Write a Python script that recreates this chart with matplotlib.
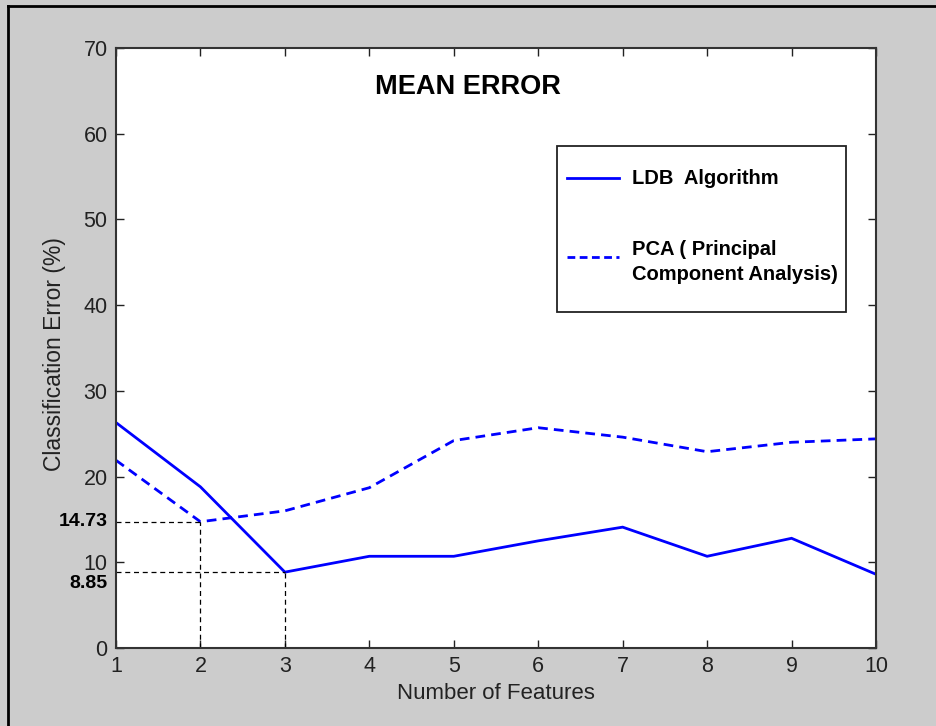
import matplotlib
matplotlib.use("Agg")
import matplotlib.pyplot as plt
from matplotlib.lines import Line2D
from matplotlib.patches import Rectangle
from matplotlib.transforms import offset_copy

plt.rcParams['font.family'] = ['Liberation Sans', 'DejaVu Sans']

features = [1, 2, 3, 4, 5, 6, 7, 8, 9, 10]
ldb_error = [26.3, 18.8, 8.85, 10.7, 10.7, 12.5, 14.1, 10.7, 12.8, 8.6]
pca_error = [21.9, 14.73, 16.0, 18.7, 24.2, 25.7, 24.6, 22.9, 24.0, 24.4]
y_ticks = [0, 10, 20, 30, 40, 50, 60, 70]
marked = [(2, 14.73), (3, 8.85)]

W, H = 937, 726
fig = plt.figure(figsize=(W / 100, H / 100), dpi=100, facecolor='#cccccc')
ax = fig.add_axes([116 / W, 1 - 648 / H, (876 - 116) / W, (648 - 48) / H])
ax.set_facecolor('white')

blue = '#0000ff'
ax.plot(features, ldb_error, color=blue, lw=2.0, solid_joinstyle='miter')
ax.plot(features, pca_error, color=blue, lw=2.0, linestyle=(0, (3.5, 2.2)))

# dashed guides to the marked minima, with their values on the y axis
label_shift = {14.73: 0, 8.85: -8.5}
for xv, yv in marked:
    ax.plot([1, xv], [yv, yv], color='black', lw=0.9, linestyle=(0, (4, 3)))
    ax.plot([xv, xv], [0, yv], color='black', lw=0.9, linestyle=(0, (4, 3)))
    tr = offset_copy(ax.get_yaxis_transform(), fig=fig, x=0, y=label_shift[yv], units='points')
    ax.text(-0.011, yv, f'{yv:.2f}', transform=tr,
            ha='right', va='center', fontsize=14, fontweight='bold')

ax.set_xlim(1, 10)
ax.set_ylim(0, 70)
ax.set_xticks(features)
ax.set_yticks(y_ticks)
ax.tick_params(direction='in', length=6, width=1, labelsize=15.5, colors='#222222',
               top=True, right=True, pad=6)
for s in ax.spines.values():
    s.set_linewidth(1.5)
    s.set_color('#333333')

ax.set_xlabel('Number of Features', fontsize=16, labelpad=4, color='#222222')
ax.set_ylabel('Classification Error (%)', fontsize=16.5, color='#222222')
ax.yaxis.set_label_coords(-0.066, 0.49)

ax.text(0.463, 0.935, 'MEAN ERROR', transform=ax.transAxes, ha='center', va='center',
        fontsize=19.5, fontweight='bold')

# legend box drawn in figure pixels
def fx(px):
    return px / W

def fy(py):
    return 1 - py / H

fig.add_artist(Rectangle((fx(557), fy(312)), fx(846) - fx(557), fy(146) - fy(312),
                         transform=fig.transFigure, facecolor='white',
                         edgecolor='#222222', lw=1.3, zorder=5))
fig.add_artist(Line2D([fx(567), fx(619)], [fy(178), fy(178)], color=blue, lw=2.0, zorder=6))
fig.add_artist(Line2D([fx(567), fx(619)], [fy(257), fy(257)], color=blue, lw=2.0,
                      linestyle=(0, (2.8, 1.6)), zorder=6))
fig.text(fx(632), fy(179), 'LDB  Algorithm', fontsize=14.5, fontweight='bold',
         va='center', ha='left', zorder=7)
fig.text(fx(632), fy(262), 'PCA ( Principal\nComponent Analysis)', fontsize=14.5,
         fontweight='bold', va='center', ha='left', linespacing=1.45, zorder=7)

# window frame lines
fig.add_artist(Line2D([fx(8), fx(8)], [0, fy(6)], color='black', lw=2))
fig.add_artist(Line2D([fx(8), 1], [fy(6), fy(6)], color='black', lw=2))

fig.savefig('out.png', dpi=100, facecolor=fig.get_facecolor())
